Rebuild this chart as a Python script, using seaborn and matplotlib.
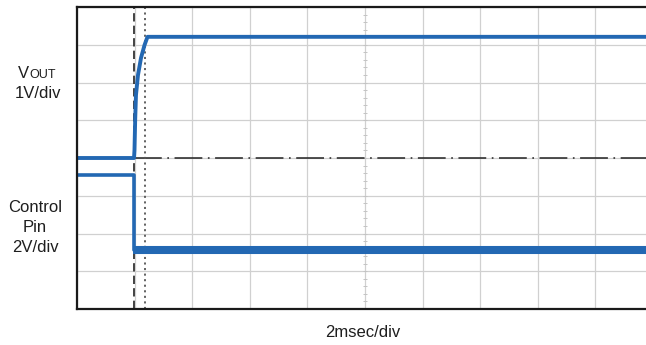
import numpy as np
import pandas as pd
import matplotlib
matplotlib.use("Agg")
import matplotlib.pyplot as plt
import seaborn as sns

# time axis in scope divisions (2 msec/div), levels in vertical divisions from bottom
vout_t = [0.0, 0.99, 0.998, 1.01, 1.024, 1.059, 1.111, 1.172, 1.224, 10.0]
vout_v = [4.0, 4.0, 4.21, 5.01, 5.67, 6.20, 6.65, 6.99, 7.21, 7.21]

ctrl_t = [0.0, 0.99, 0.99, 10.0]
ctrl_v = [3.55, 3.55, 1.56, 1.56]

# settled (noisy) part of control pin trace
ctrl_low_t = [0.98, 10.0]
ctrl_low_v = [1.56, 1.56]

trigger_t = 0.99      # dashed marker
delay_t = 1.18        # dotted marker
ref_level = 4.0       # dash-dot reference

n_xdiv, n_ydiv = 10, 8
blue = "#2368b3"

sns.set_style("white")
plt.rcParams["font.family"] = ["Liberation Sans", "DejaVu Sans"]
plt.rcParams["lines.scale_dashes"] = False

fig = plt.figure(figsize=(6.46, 3.45), dpi=100)
ax = fig.add_axes([77 / 646, 36 / 345, 576 / 646, 302 / 345])

ax.set_xlim(0, n_xdiv)
ax.set_ylim(0, n_ydiv)
ax.set_xticks(range(n_xdiv + 1))
ax.set_yticks(range(n_ydiv + 1))
ax.grid(True, color="#d0d0d0", lw=0.9)
ax.tick_params(length=0, labelbottom=False, labelleft=False)
for s in ax.spines.values():
    s.set_color("#1a1a1a")
    s.set_linewidth(1.6)

# minor ticks along the centre line
minor = np.arange(0, n_ydiv + 0.01, 0.2)
ax.plot([n_xdiv / 2] * len(minor), minor, ls="none", marker="_", ms=3, color="#c4c4c4", mew=0.7)

ax.axhline(ref_level, xmin=trigger_t / n_xdiv, color="#222222", lw=1.1, dashes=(20, 4, 1.2, 4))
ax.axvline(trigger_t, color="#333333", lw=1.3, dashes=(6, 3))
ax.axvline(delay_t, color="#555555", lw=1.3, dashes=(1.5, 2.5))

vout = pd.DataFrame({"t": vout_t, "v": vout_v})
ctrl = pd.DataFrame({"t": ctrl_t, "v": ctrl_v})
low = pd.DataFrame({"t": ctrl_low_t, "v": ctrl_low_v})
sns.lineplot(data=ctrl, x="t", y="v", ax=ax, color=blue, lw=2.6, sort=False, estimator=None)
sns.lineplot(data=low, x="t", y="v", ax=ax, color=blue, lw=5.8, sort=False, estimator=None,
             solid_capstyle="butt")
sns.lineplot(data=vout, x="t", y="v", ax=ax, color=blue, lw=2.8, sort=False, estimator=None)
ax.set_xlabel("")
ax.set_ylabel("")


def ftext(x, y, s, **kw):
    fig.text(x / 646, 1 - y / 345, s, va="baseline", color="#1e1e1e", **kw)


ftext(29, 78, "V", fontsize=12, ha="right")
ftext(29, 78, "OUT", fontsize=9, ha="left")
ftext(38, 98, "1V/div", fontsize=12, ha="center")
ftext(35, 212, "Control", fontsize=12, ha="center")
ftext(35, 232, "Pin", fontsize=12, ha="center")
ftext(35, 252, "2V/div", fontsize=12, ha="center")
ftext(363, 337, "2msec/div", fontsize=12, ha="center")

fig.savefig("out.png", dpi=100)
